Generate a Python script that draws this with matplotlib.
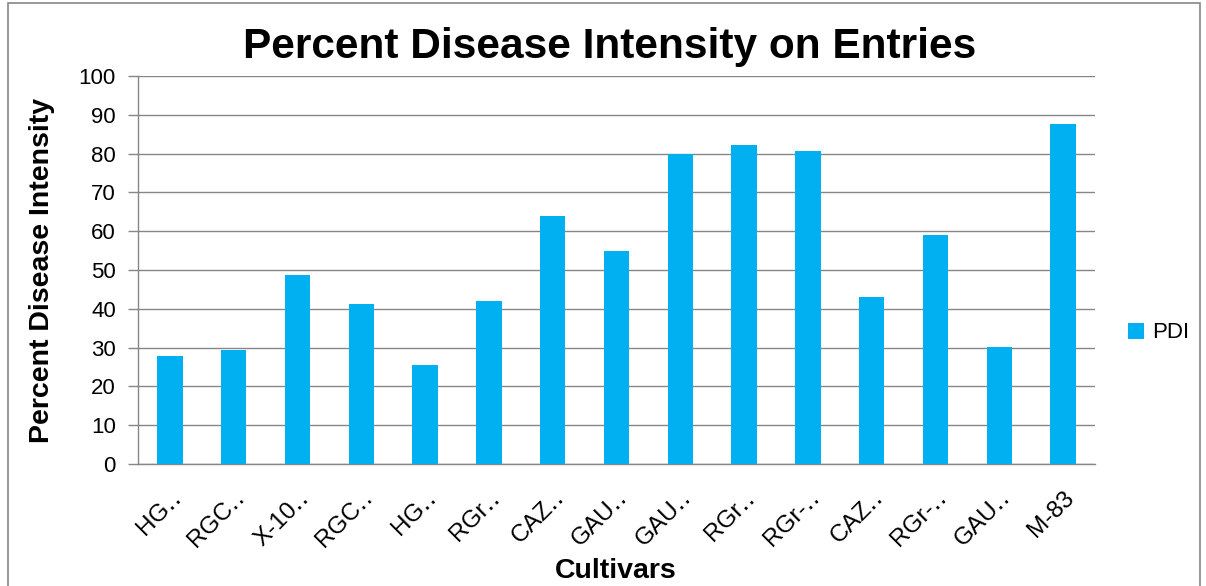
import numpy as np
import matplotlib
import matplotlib.pyplot as plt
import matplotlib.transforms as mtransforms
from matplotlib.patches import Rectangle
matplotlib.use('Agg')

cultivars = ['HG\u2025', 'RGC\u2025', 'X-10\u2025', 'RGC\u2025', 'HG\u2025', 'RGr\u2025',
             'CAZ\u2025', 'GAU\u2025', 'GAU\u2025', 'RGr\u2025', 'RGr-\u2025', 'CAZ\u2025',
             'RGr-\u2025', 'GAU\u2025', 'M-83']
pdi = [27.9, 29.4, 48.6, 41.3, 25.6, 42.1, 63.9, 54.9,
       79.8, 82.3, 80.7, 43.0, 58.9, 30.1, 87.6]
y_ticks = np.arange(0, 101, 10)

plt.rcParams['font.family'] = ['Liberation Sans', 'DejaVu Sans']
grey = '#868686'
blue = '#00b0f0'

fig = plt.figure(figsize=(12.06, 5.86), dpi=100)
# axes box in pixels: left 138, right 1095, top 76, bottom 464
ax = fig.add_axes([138 / 1206, 1 - 464 / 586, (1095 - 138) / 1206, (464 - 76) / 586])

index = np.arange(len(cultivars))
ax.bar(index, pdi, 0.4, color=blue, label='PDI', zorder=3)

ax.set_xlim(-0.5, len(cultivars) - 0.5)
ax.set_ylim(0, 100)
ax.set_yticks(y_ticks)
ax.set_yticklabels(['%d' % v for v in y_ticks], fontsize=16)
ax.set_xticks(index)
ax.set_xticklabels(cultivars, rotation=45, ha='right', va='center',
                   rotation_mode='anchor', fontsize=17.5)
ax.tick_params(axis='x', length=0, pad=22)
ax.tick_params(axis='y', length=7, color=grey, width=1, pad=9)
# nudge the slanted labels to the right a bit
shift = mtransforms.ScaledTranslation(8 / 100, 0, fig.dpi_scale_trans)
for lbl in ax.get_xticklabels():
    lbl.set_transform(lbl.get_transform() + shift)

ax.grid(axis='y', color=grey, linewidth=1, zorder=0)
for side in ['top', 'right']:
    ax.spines[side].set_visible(False)
for side in ['left', 'bottom']:
    ax.spines[side].set_color(grey)
    ax.spines[side].set_linewidth(1)

ax.set_ylabel('Percent Disease Intensity', fontsize=20.5, fontweight='bold', labelpad=17)
fig.text(616 / 1206, 1 - 571 / 586, 'Cultivars', ha='center', va='center',
         fontsize=20.5, fontweight='bold')
fig.text(610 / 1206, 1 - 47 / 586, 'Percent Disease Intensity on Entries', ha='center', va='center',
         fontsize=30.5, fontweight='bold')

fig.legend(loc='center left', bbox_to_anchor=(1108 / 1206, 1 - 333 / 586), frameon=False,
           fontsize=16, handlelength=0.7, handleheight=0.7, handletextpad=0.4)

# chart border
fig.patches.append(Rectangle((8 / 1206, -0.01), (1200 - 8) / 1206, 1 - 3 / 586 + 0.01,
                             transform=fig.transFigure, fill=False, edgecolor=grey, linewidth=1.2))

plt.savefig('out.png', dpi=100)
